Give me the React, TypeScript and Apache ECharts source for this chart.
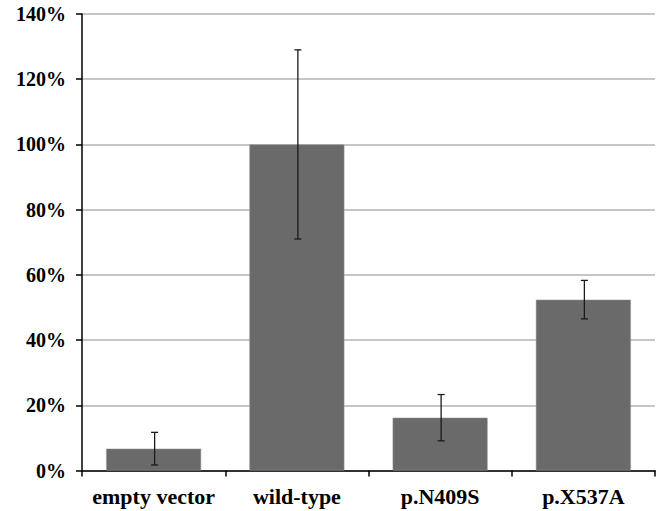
import React, { useEffect, useRef } from "react";
import * as echarts from "echarts";

const categories = ["empty vector", "wild-type", "p.N409S", "p.X537A"];
const values = [6.7, 100, 16.2, 52.4];
const errors = [5.0, 29.0, 7.1, 5.9];
const yTicks = { min: 0, max: 140, interval: 20 };

export default function App() {
  const ref = useRef<HTMLDivElement>(null);
  useEffect(() => {
    if (!ref.current) return;
    const chart = echarts.init(ref.current, null, { renderer: "svg" });
    const font = "'Liberation Serif', 'Times New Roman', serif";
    chart.setOption({
      animation: false,
      backgroundColor: "#ffffff",
      grid: { left: 82, right: 2, top: 14, bottom: 40.5, containLabel: false },
      xAxis: {
        type: "category",
        data: categories,
        axisLine: { show: true, lineStyle: { color: "#000", width: 1.5 } },
        axisTick: { show: true, interval: 0, length: 6, alignWithLabel: false, lineStyle: { color: "#000", width: 1.5 } },
        axisLabel: {
          interval: 0,
          hideOverlap: false,
          color: "#000",
          fontFamily: font,
          fontWeight: "bold",
          fontSize: 22,
          margin: 15,
        },
        splitLine: { show: false },
      },
      yAxis: {
        type: "value",
        min: yTicks.min,
        max: yTicks.max,
        interval: yTicks.interval,
        axisLine: { show: true, lineStyle: { color: "#000", width: 1.5 } },
        axisTick: { show: true, length: 6, lineStyle: { color: "#000", width: 1.5 } },
        axisLabel: {
          color: "#000",
          fontFamily: font,
          fontWeight: "bold",
          fontSize: 20,
          margin: 16,
          formatter: (v: number) => `${v}%`,
        },
        splitLine: { show: true, lineStyle: { color: "#b3b3b3", width: 1.5 } },
      },
      series: [
        {
          type: "bar",
          data: values,
          barCategoryGap: "33.7%",
          itemStyle: { color: "#6a6a6a", borderColor: "#9a9a9a", borderWidth: 0.5 },
          z: 2,
        },
        {
          type: "custom",
          z: 5,
          data: values.map((v, i) => [i, v - errors[i], v + errors[i]]),
          renderItem: (params: any, api: any) => {
            const x = api.value(0);
            const lo = api.coord([x, api.value(1)]);
            const hi = api.coord([x, api.value(2)]);
            const cx = lo[0] + 1;
            const hw = 3.5;
            const style = { stroke: "#1a1a1a", lineWidth: 1.3 };
            return {
              type: "group",
              children: [
                { type: "line", shape: { x1: cx, y1: hi[1], x2: cx, y2: lo[1] }, style },
                { type: "line", shape: { x1: cx - hw, y1: hi[1], x2: cx + hw, y2: hi[1] }, style },
                { type: "line", shape: { x1: cx - hw, y1: lo[1], x2: cx + hw, y2: lo[1] }, style },
              ],
            };
          },
        },
      ],
    });
    return () => chart.dispose();
  }, []);
  return <div ref={ref} style={{ width: 657, height: 511, position: "fixed", left: 0, top: 0 }} />;
}
